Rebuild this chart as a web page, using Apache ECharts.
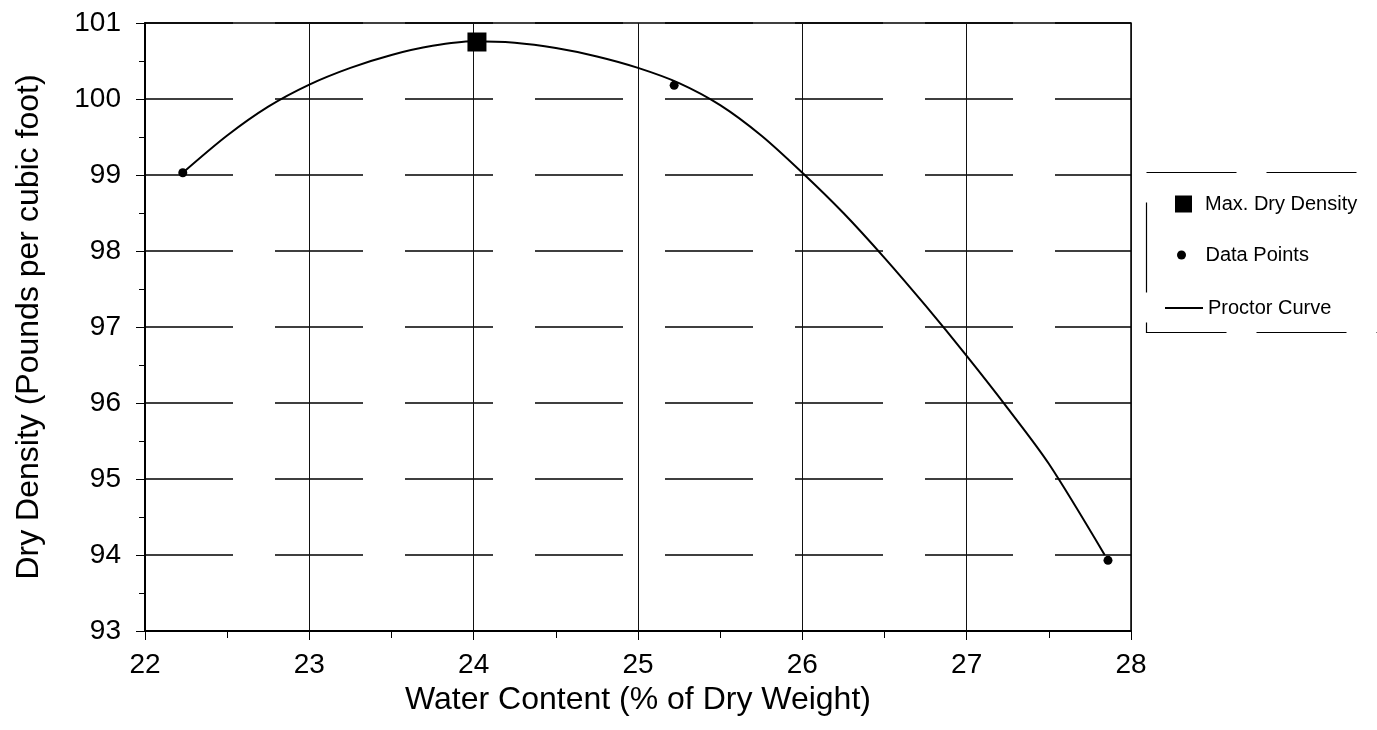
<!DOCTYPE html>
<html>
<head>
<meta charset="utf-8">
<script src="https://cdn.jsdelivr.net/npm/echarts@6/dist/echarts.min.js"></script>
<style>
html,body{margin:0;padding:0;background:#fff;}
#chart{width:1377px;height:730px;}
</style>
</head>
<body>
<div id="chart"></div>
<script>
// Data
const maxPointX = [24.02];
const maxPointY = [100.75];
const dataPointsX = [22.23, 25.22, 27.86];
const dataPointsY = [99.03, 100.18, 93.93];
const curveX = [22.23, 22.5, 22.75, 23.0, 23.25, 23.5, 23.75, 24.0, 24.25, 24.5, 24.75, 25.0, 25.25, 25.5, 25.75, 26.0, 26.25, 26.5, 26.75, 27.0, 27.25, 27.5, 27.84];
const curveY = [99.03, 99.52, 99.9, 100.19, 100.41, 100.58, 100.7, 100.76, 100.74, 100.67, 100.56, 100.41, 100.21, 99.92, 99.52, 99.03, 98.5, 97.91, 97.28, 96.62, 95.93, 95.2, 94.0];
const seriesNames = ['Max. Dry Density', 'Data Points', 'Proctor Curve'];
const xTitle = 'Water Content (% of Dry Weight)';
const yTitle = 'Dry Density (Pounds per cubic foot)';

const zip = (xs, ys) => xs.map((x, i) => [x, ys[i]]);
const FONT = '"Liberation Sans", Arial, sans-serif';

const chart = echarts.init(document.getElementById('chart'));
chart.setOption({
  animation: false,
  backgroundColor: '#fff',
  grid: {
    left: 145, right: 246, top: 23, bottom: 99,
    show: true, borderColor: '#000', borderWidth: 1.5, backgroundColor: 'transparent'
  },
  xAxis: {
    type: 'value', min: 22, max: 28, interval: 1,
    name: xTitle, nameLocation: 'middle', nameGap: 43,
    nameTextStyle: { fontFamily: FONT, fontSize: 32, color: '#000' },
    axisLine: { lineStyle: { color: '#000', width: 2 } },
    axisTick: { show: true, inside: false, length: 9, lineStyle: { color: '#000', width: 1 } },
    minorTick: { show: true, splitNumber: 2, length: 7, lineStyle: { color: '#000', width: 1 } },
    axisLabel: { fontFamily: FONT, fontSize: 28, color: '#000', margin: 20 },
    splitLine: { show: true, lineStyle: { color: '#111', width: 1 } }
  },
  yAxis: {
    type: 'value', min: 93, max: 101, interval: 1,
    name: yTitle, nameLocation: 'middle', nameGap: 100,
    nameTextStyle: { fontFamily: FONT, fontSize: 32, color: '#000' },
    axisLine: { lineStyle: { color: '#000', width: 2 } },
    axisTick: { show: true, inside: false, length: 9, lineStyle: { color: '#000', width: 1 } },
    minorTick: { show: true, splitNumber: 2, length: 6, lineStyle: { color: '#000', width: 1 } },
    axisLabel: { fontFamily: FONT, fontSize: 28, color: '#000', margin: 24 },
    splitLine: { show: true, lineStyle: { color: '#000', width: 1.5, type: [88, 42] } }
  },
  legend: [
    {
      data: [seriesNames[0]], orient: 'vertical', left: 1170, top: 189,
      itemWidth: 17, itemHeight: 17, icon: 'rect',
      itemStyle: { opacity: 1 },
      textStyle: { fontFamily: FONT, fontSize: 20, color: '#000', padding: [0, 0, 0, 8] }
    },
    {
      data: [seriesNames[1]], orient: 'vertical', left: 1172, top: 240,
      itemWidth: 38, itemHeight: 9, icon: 'circle',
      itemStyle: { opacity: 1 },
      textStyle: { fontFamily: FONT, fontSize: 20, color: '#000' }
    },
    {
      data: [seriesNames[2]], orient: 'vertical', left: 1160, top: 293,
      itemWidth: 38, itemHeight: 17,
      icon: 'path://M0,0 L40,0 L40,2 L0,2 Z',
      textStyle: { fontFamily: FONT, fontSize: 20, color: '#000' }
    }
  ],
  graphic: [
    {
      type: 'rect', left: 1144, top: 170, z: 10,
      shape: { width: 260, height: 160 },
      style: { fill: 'none', stroke: '#000', lineWidth: 1.2, lineDash: [90, 30] },
      silent: true
    }
  ],
  series: [
    {
      name: seriesNames[2], type: 'line', data: zip(curveX, curveY),
      smooth: 0.3, showSymbol: false, symbol: 'none',
      lineStyle: { color: '#000', width: 2 }, itemStyle: { color: '#000' }, z: 3
    },
    {
      name: seriesNames[1], type: 'scatter', data: zip(dataPointsX, dataPointsY),
      symbol: 'circle', symbolSize: 9, itemStyle: { color: '#000', opacity: 1 }, z: 4
    },
    {
      name: seriesNames[0], type: 'scatter', data: zip(maxPointX, maxPointY),
      symbol: 'rect', symbolSize: 19, itemStyle: { color: '#000', opacity: 1 }, z: 5
    }
  ]
});
</script>
</body>
</html>
